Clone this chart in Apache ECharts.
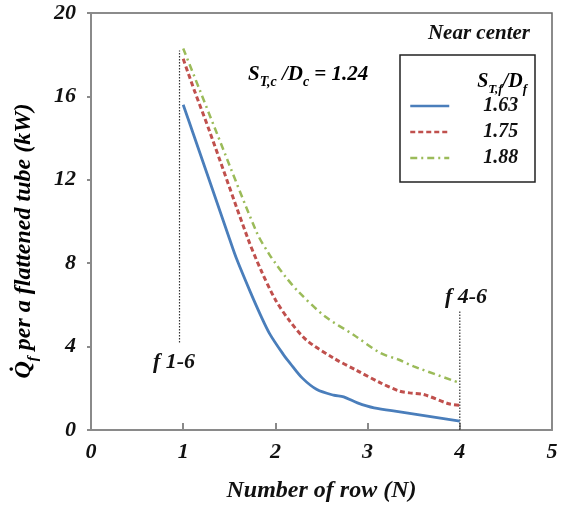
<!DOCTYPE html>
<html>
<head>
<meta charset="utf-8">
<script src="https://cdn.jsdelivr.net/npm/echarts@6/dist/echarts.min.js"></script>
<style>html,body{margin:0;padding:0;background:#fff}#c{width:565px;height:508px}</style>
</head>
<body>
<div id="c"></div>
<script>
// ---- data ----
const seriesNames = ['1.63', '1.75', '1.88'];
const xBlue = [1.0, 1.11, 1.5, 1.58, 1.73, 1.84, 1.94, 2.09, 2.16, 2.29, 2.45, 2.63, 2.74, 2.89, 3.07, 3.35, 4.0];
const yBlue = [15.6, 14.2, 9.2, 8.2, 6.6, 5.5, 4.6, 3.6, 3.2, 2.5, 1.94, 1.67, 1.59, 1.30, 1.06, 0.87, 0.43];
const xRed = [1.0, 1.12, 1.28, 1.70, 1.84, 2.0, 2.16, 2.34, 2.63, 2.885, 3.14, 3.35, 3.46, 3.61, 3.88, 4.0];
const yRed = [17.8, 16.3, 14.4, 9.2, 7.7, 6.25, 5.2, 4.3, 3.45, 2.85, 2.26, 1.86, 1.78, 1.70, 1.26, 1.19];
const xGreen = [1.0, 1.18, 1.35, 1.80, 1.93, 2.0, 2.11, 2.25, 2.54, 2.85, 3.14, 3.34, 3.50, 4.0];
const yGreen = [18.3, 16.3, 14.4, 9.45, 8.45, 8.0, 7.35, 6.63, 5.44, 4.56, 3.69, 3.37, 3.05, 2.26];
const guideLeftX = [0.96, 0.96];
const guideLeftY = [4.2, 18.2];
const guideRightX = [4.0, 4.0];
const guideRightY = [0, 5.7];
const xTicks = [0, 1, 2, 3, 4, 5];
const yTicks = [0, 4, 8, 12, 16, 20];

const pair = (xs, ys) => xs.map((x, i) => [x, ys[i]]);
const FONT = '"Liberation Serif", "Times New Roman", serif';

const chart = echarts.init(document.getElementById('c'));
const txt = {fontFamily: FONT, fontWeight: 'bold', fontStyle: 'italic', color: '#111'};
const rt = (main, sub, off) => ({
  m: Object.assign({fontSize: main, lineHeight: main + 4, verticalAlign: 'bottom'}, txt),
  s: Object.assign({fontSize: sub, lineHeight: sub + 4, verticalAlign: 'bottom', padding: [0, 0, -off, 0]}, txt)
});

chart.setOption({
  animation: false,
  backgroundColor: '#fff',
  grid: {left: 91, top: 13, width: 461, height: 419, show: true, borderColor: '#666', borderWidth: 1.5},
  xAxis: {
    type: 'value', min: xTicks[0], max: xTicks[xTicks.length - 1], interval: 1,
    name: 'Number of row (N)', nameLocation: 'middle', nameGap: 49,
    nameTextStyle: Object.assign({fontSize: 24}, txt),
    axisLine: {show: true, onZero: false, lineStyle: {color: '#8a8a8a', width: 2}},
    axisTick: {show: true, inside: true, length: 7, lineStyle: {color: '#8a8a8a', width: 2}},
    axisLabel: Object.assign({fontSize: 22, margin: 11}, txt),
    splitLine: {show: false}
  },
  yAxis: {
    type: 'value', min: yTicks[0], max: yTicks[yTicks.length - 1], interval: 4,
    axisLine: {show: true, onZero: false, lineStyle: {color: '#8a8a8a', width: 2}},
    axisTick: {show: true, inside: false, length: 4, lineStyle: {color: '#8a8a8a', width: 2}},
    axisLabel: Object.assign({fontSize: 22, margin: 15}, txt),
    splitLine: {show: false}
  },
  legend: {
    orient: 'vertical', left: 409, top: 96, padding: 0, itemWidth: 39, itemHeight: 14, itemGap: 6,
    data: seriesNames,
    itemStyle: {opacity: 0},
    lineStyle: {width: 2.5},
    textStyle: Object.assign({fontSize: 20, lineHeight: 20, padding: [0, 0, 0, 29]}, txt),
    selectedMode: false
  },
  series: [
    {name: seriesNames[0], type: 'line', data: pair(xBlue, yBlue), symbol: 'none', smooth: 0.3,
     lineStyle: {color: '#4a7ebb', width: 2.8}, itemStyle: {color: '#4a7ebb'}, z: 5},
    {name: seriesNames[1], type: 'line', data: pair(xRed, yRed), symbol: 'none', smooth: 0.3,
     lineStyle: {color: '#c0504d', width: 3, type: [5, 3]}, itemStyle: {color: '#c0504d'}, z: 4},
    {name: seriesNames[2], type: 'line', data: pair(xGreen, yGreen), symbol: 'none', smooth: 0.3,
     lineStyle: {color: '#9bbb59', width: 2.5, type: [7, 4, 2, 4]}, itemStyle: {color: '#9bbb59'}, z: 3},
    {name: 'guideL', type: 'line', data: pair(guideLeftX, guideLeftY), symbol: 'none',
     lineStyle: {color: '#333', width: 1.2, type: [1.5, 1.5]}, z: 2},
    {name: 'guideR', type: 'line', data: pair(guideRightX, guideRightY), symbol: 'none',
     lineStyle: {color: '#333', width: 1.2, type: [1.5, 1.5]}, z: 2}
  ],
  graphic: [
    {type: 'rect', shape: {x: 400, y: 55, width: 135, height: 127}, style: {fill: 'none', stroke: '#222', lineWidth: 1.5}, z: 10},
    {type: 'text', x: 527, y: 80, z: 10, style: {
      text: '{m|S}{s|T,f}{m|/D}{s|f}', align: 'right', verticalAlign: 'middle', rich: rt(20, 13, 4)}},
    {type: 'text', x: 530, y: 34, z: 10, style: Object.assign({text: 'Near center', fontSize: 21, align: 'right', verticalAlign: 'middle'}, txt, {fill: '#111'})},
    {type: 'text', x: 248, y: 73, z: 10, style: {
      text: '{m|S}{s|T,c}{m| /D}{s|c}{m| = 1.24}', align: 'left', verticalAlign: 'middle', rich: rt(21, 14, 4)}},
    {type: 'text', x: 174, y: 362, z: 10, style: Object.assign({text: 'f 1-6', fontSize: 22, align: 'center', verticalAlign: 'middle'}, txt, {fill: '#111'})},
    {type: 'text', x: 466, y: 297, z: 10, style: Object.assign({text: 'f 4-6', fontSize: 22, align: 'center', verticalAlign: 'middle'}, txt, {fill: '#111'})},
    {type: 'text', x: 22, y: 241, rotation: Math.PI / 2, z: 10, style: {
      text: '{m|Q\u0307}{s|f}{m| per a flattened tube (kW)}', align: 'center', verticalAlign: 'middle', rich: rt(24, 15, 5)}}
  ]
});
</script>
</body>
</html>
